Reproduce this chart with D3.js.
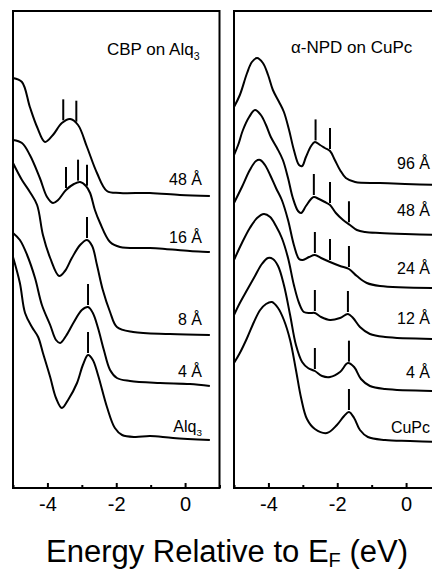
<!DOCTYPE html>
<html>
<head>
<meta charset="utf-8">
<script src="https://cdn.jsdelivr.net/npm/d3@7"></script>
<style>
  body { margin: 0; background: #fff; }
  svg { display: block; font-family: "Liberation Sans", Arial, sans-serif; }
</style>
</head>
<body>
<svg id="chart" width="432" height="573"></svg>
<script>
// ---- data (energy eV, intensity arb. units incl. vertical offset) ----
var energyDomain = [-5, 1];
var majorTicks = [-4, -2, 0];
var minorTicks = [-5, -3, -1, 1];

var cbpLabels = [["48 Å", ""], ["16 Å", ""], ["8 Å", ""], ["4 Å", ""], ["Alq", "3"]];
var cbp48 = [[-5.00,410],[-4.74,406],[-4.51,381],[-4.30,361],[-4.07,346],[-3.84,353],[-3.58,365],[-3.34,369],
  [-3.11,363],[-2.85,341],[-2.56,315],[-2.27,297],[-1.89,295],[-1.02,295],[-0.15,293],[0.72,292]];
var cbp16 = [[-5.00,348],[-4.74,345],[-4.51,333],[-4.22,310],[-4.01,291],[-3.84,285],[-3.69,288],[-3.46,298],
  [-3.23,304],[-3.05,306],[-2.88,302],[-2.76,295],[-2.62,278],[-2.47,265],[-2.18,246],[-1.89,241],[-1.02,240],
  [-0.58,239],[0.14,237],[0.72,236]];
var cbp8 = [[-5.00,325],[-4.74,308],[-4.51,296],[-4.30,283],[-4.13,253],[-3.92,230],[-3.66,212],[-3.49,217],
  [-3.29,230],[-3.05,243],[-2.85,248],[-2.70,242],[-2.56,223],[-2.39,198],[-2.18,176],[-1.98,161],[-1.51,156],
  [-0.44,154],[0.72,153]];
var cbp4 = [[-5.00,255],[-4.80,248],[-4.59,233],[-4.36,210],[-4.16,183],[-3.92,163],[-3.75,148],[-3.63,145],
  [-3.46,152],[-3.23,166],[-3.00,178],[-2.82,181],[-2.68,175],[-2.53,160],[-2.36,138],[-2.18,118],[-1.98,110],
  [-1.60,107],[-0.73,105],[0.14,104],[0.72,102]];
var alq3 = [[-5.00,231],[-4.80,205],[-4.65,175],[-4.45,161],[-4.27,151],[-4.13,135],[-3.92,111],[-3.75,90],
  [-3.58,80],[-3.40,88],[-3.14,105],[-2.97,123],[-2.82,133],[-2.68,128],[-2.53,113],[-2.27,81],[-2.04,60],
  [-1.83,53],[-1.46,51],[-1.02,52],[-0.35,50],[0.72,48]];
var cbpMarks = [[-3.54, -3.16], [-3.46, -3.11, -2.85], [-2.85], [-2.82], [-2.82]];

var npdLabels = [["96 Å", ""], ["48 Å", ""], ["24 Å", ""], ["12 Å", ""], ["4 Å", ""], ["CuPc", ""]];
var npd96 = [[-5.00,381],[-4.83,393],[-4.62,415],[-4.48,426],[-4.33,430],[-4.16,425],[-4.01,413],[-3.87,398],
  [-3.69,386],[-3.55,376],[-3.40,358],[-3.26,338],[-3.11,323],[-3.02,322],[-2.91,331],[-2.76,342],[-2.65,346],
  [-2.50,343],[-2.36,340],[-2.21,337],[-2.07,328],[-1.92,318],[-1.75,310],[-1.48,306],[-0.76,305],[-0.03,304],[0.98,303]];
var npd48 = [[-5.00,333],[-4.88,343],[-4.74,358],[-4.56,371],[-4.39,378],[-4.22,373],[-4.07,363],[-3.93,351],
  [-3.75,340],[-3.58,328],[-3.43,310],[-3.29,290],[-3.14,277],[-3.05,275],[-2.91,282],[-2.76,289],[-2.68,291],
  [-2.53,289],[-2.36,286],[-2.21,283],[-2.04,275],[-1.83,268],[-1.63,263],[-1.43,258],[-1.19,256],[-0.76,255],
  [-0.03,254],[0.98,253]];
var npd24 = [[-5.00,285],[-4.77,301],[-4.54,318],[-4.36,327],[-4.24,328],[-4.10,323],[-3.95,313],[-3.78,300],
  [-3.61,288],[-3.43,268],[-3.26,243],[-3.11,229],[-3.00,228],[-2.82,231],[-2.65,233],[-2.47,230],[-2.21,226],
  [-1.92,222],[-1.66,219],[-1.43,212],[-1.14,205],[-0.76,202],[0.98,200]];
var npd12 = [[-5.00,228],[-4.77,245],[-4.54,260],[-4.33,270],[-4.13,274],[-3.95,271],[-3.78,262],[-3.61,250],
  [-3.43,230],[-3.26,203],[-3.11,185],[-2.97,176],[-2.79,175],[-2.65,175],[-2.47,171],[-2.21,168],[-1.92,170],
  [-1.69,174],[-1.54,170],[-1.34,161],[-1.05,154],[-0.61,151],[0.98,149]];
var npd4 = [[-5.00,173],[-4.83,185],[-4.62,198],[-4.39,212],[-4.19,224],[-4.01,230],[-3.87,229],[-3.72,222],
  [-3.55,203],[-3.37,173],[-3.20,143],[-3.02,126],[-2.85,120],[-2.65,117],[-2.44,112],[-2.21,111],[-1.92,116],
  [-1.69,125],[-1.51,121],[-1.31,109],[-1.05,102],[-0.61,99],[0.98,97]];
var cuPc = [[-5.00,125],[-4.83,135],[-4.62,150],[-4.42,166],[-4.24,178],[-4.07,184],[-3.90,186],[-3.72,180],
  [-3.55,168],[-3.37,148],[-3.20,118],[-3.05,90],[-2.88,69],[-2.65,59],[-2.30,55],[-2.01,63],[-1.80,72],
  [-1.66,76],[-1.51,70],[-1.34,58],[-1.11,51],[-0.61,48],[0.11,47],[0.98,46]];
var npdMarks = [[-2.63, -2.21], [-2.68, -2.21, -1.66], [-2.65, -2.21, -1.66], [-2.65, -1.69], [-2.65, -1.66], [-1.66]];

// ---- layout ----
var svg = d3.select("#chart");
var plotTop = 11, plotBottom = 488;

var y = d3.scaleLinear().domain([0, 477]).range([plotBottom, plotTop]);

var panels = [
  { left: 13, right: 219.5, title: ["CBP on Alq", "3"], titleX: 107, titleY: 55,
    series: [cbp48, cbp16, cbp8, cbp4, alq3], labels: cbpLabels, marks: cbpMarks,
    labelX: 202, labelLift: [11, 9, 10, 9, 8] },
  { left: 234, right: 440.5, title: ["α-NPD on CuPc", ""], titleX: 291, titleY: 53,
    series: [npd96, npd48, npd24, npd12, npd4, cuPc], labels: npdLabels, marks: npdMarks,
    labelX: 430, labelLift: [16, 19, 14, 15, 13, 9] }
];

function valueAt(data, e) {
  for (var i = 1; i < data.length; i++) {
    if (e <= data[i][0]) {
      var a = data[i - 1], b = data[i];
      return a[1] + (b[1] - a[1]) * (e - a[0]) / (b[0] - a[0]);
    }
  }
  return data[data.length - 1][1];
}

function addText(g, parts, x, yy, size, anchor) {
  var t = g.append("text")
    .attr("x", x)
    .attr("y", yy)
    .attr("font-size", size)
    .attr("text-anchor", anchor || "start")
    .attr("fill", "#000")
    .text(parts[0]);
  if (parts[1]) {
    t.append("tspan")
      .attr("font-size", size * 0.62)
      .attr("dy", size * 0.28)
      .text(parts[1]);
  }
  return t;
}

panels.forEach(function(p) {
  var x = d3.scaleLinear().domain(energyDomain).range([p.left, p.right]);
  var g = svg.append("g");

  var line = d3.line()
    .x(function(d) { return x(d[0]); })
    .y(function(d) { return y(d[1]); })
    .curve(d3.curveCatmullRom.alpha(0.5));

  g.selectAll("path.spec")
    .data(p.series)
    .enter().append("path")
    .attr("class", "spec")
    .attr("fill", "none")
    .attr("stroke", "#000")
    .attr("stroke-width", 2)
    .attr("stroke-linejoin", "round")
    .attr("d", line);

  // feature markers
  p.series.forEach(function(data, i) {
    p.marks[i].forEach(function(e) {
      var base = y(valueAt(data, e)) - 2;
      g.append("line")
        .attr("x1", x(e)).attr("x2", x(e))
        .attr("y1", base).attr("y2", base - 21)
        .attr("stroke", "#000")
        .attr("stroke-width", 2);
    });
    var last = data[data.length - 1];
    addText(g, p.labels[i], p.labelX, y(last[1]) - p.labelLift[i], 16, "end");
  });

  // frame
  g.append("rect")
    .attr("x", p.left).attr("y", plotTop)
    .attr("width", p.right - p.left).attr("height", plotBottom - plotTop)
    .attr("fill", "none")
    .attr("stroke", "#000")
    .attr("stroke-width", 2);

  // axes
  g.append("g")
    .attr("transform", "translate(0," + plotBottom + ")")
    .call(d3.axisBottom(x).tickValues(majorTicks).tickSize(-5).tickPadding(9)
      .tickFormat(function(d) { return d === 0 ? "0" : String(d); }))
    .call(function(a) {
      a.select(".domain").remove();
      a.selectAll("line").attr("stroke", "#000").attr("stroke-width", 2);
      a.selectAll("text").attr("font-size", 20).attr("font-family", "Liberation Sans, Arial, sans-serif").attr("fill", "#000");
    });
  g.append("g")
    .attr("transform", "translate(0," + plotBottom + ")")
    .call(d3.axisBottom(x).tickValues(minorTicks).tickSize(-3).tickFormat(""))
    .call(function(a) {
      a.select(".domain").remove();
      a.selectAll("line").attr("stroke", "#000").attr("stroke-width", 2);
    });

  addText(g, p.title, p.titleX, p.titleY, 17, "start");
});

// axis title
var xt = svg.append("text")
  .attr("x", 227)
  .attr("y", 562)
  .attr("text-anchor", "middle")
  .attr("font-size", 31)
  .attr("fill", "#000")
  .text("Energy Relative to E");
xt.append("tspan").attr("font-size", 20).attr("dy", 5).text("F");
xt.append("tspan").attr("dy", -5).text(" (eV)");
</script>
</body>
</html>
